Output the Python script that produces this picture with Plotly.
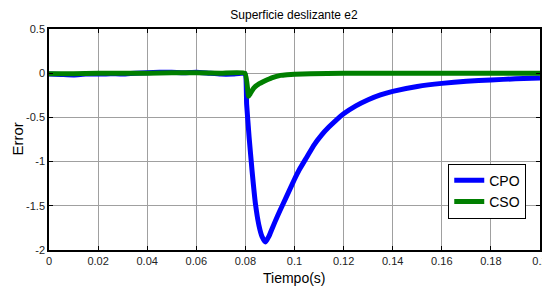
import plotly.graph_objects as go

# Time samples (s)
t_cpo = [0, 0.005, 0.01, 0.015, 0.02, 0.025, 0.03, 0.035, 0.04, 0.045, 0.05, 0.055,
         0.06, 0.065, 0.07, 0.075, 0.0798, 0.0805, 0.0815, 0.0827, 0.0841, 0.0855,
         0.0868, 0.0882, 0.0895, 0.091, 0.093, 0.095, 0.098, 0.1, 0.102, 0.105,
         0.108, 0.111, 0.114, 0.117, 0.12, 0.125, 0.13, 0.135, 0.14,
         0.15, 0.16, 0.17, 0.18, 0.19, 0.2]
cpo = [-0.01, -0.015, -0.02, -0.01, -0.01, -0.005, -0.01, 0.0, 0.005, 0.01, 0.01, 0.005,
       0.01, 0.0, -0.01, -0.01, -0.005, -0.35, -0.72, -1.1, -1.48, -1.72,
       -1.85, -1.91, -1.85, -1.75, -1.62, -1.5, -1.32, -1.2, -1.09, -0.95,
       -0.81, -0.7, -0.61, -0.53, -0.46, -0.37, -0.3, -0.245, -0.205,
       -0.15, -0.115, -0.092, -0.076, -0.064, -0.055]

t_cso = [0, 0.01, 0.02, 0.03, 0.04, 0.05, 0.06, 0.07, 0.0798, 0.0813, 0.082, 0.0834,
         0.085, 0.087, 0.0889, 0.091, 0.0943, 0.097, 0.1, 0.1065, 0.12, 0.14, 0.16,
         0.18, 0.2]
cso = [-0.005, -0.005, 0.0, 0.0, 0.0, 0.005, 0.005, 0.0, 0.0, -0.26, -0.23, -0.17,
       -0.13, -0.1, -0.075, -0.05, -0.025, -0.017, -0.012, -0.005, 0.0, 0.0, 0.0,
       0.0, 0.0]

x_ticks = [0, 0.02, 0.04, 0.06, 0.08, 0.1, 0.12, 0.14, 0.16, 0.18, 0.2]
x_tick_labels = ["0", "0.02", "0.04", "0.06", "0.08", "0.1", "0.12", "0.14", "0.16", "0.18", "0.2"]
y_ticks = [-2, -1.5, -1, -0.5, 0, 0.5]
y_tick_labels = ["-2", "-1.5", "-1", "-0.5", "0", "0.5"]

FONT = "Liberation Sans, Arial"
# page body has an 8px default margin, so the figure is sized to fit inside it
W, H = 542, 279

fig = go.Figure()
fig.add_trace(go.Scatter(x=t_cpo, y=cpo, mode="lines", name="CPO",
                         line=dict(color="#0000ff", width=5, shape="spline", smoothing=0.4)))
fig.add_trace(go.Scatter(x=t_cso, y=cso, mode="lines", name="CSO",
                         line=dict(color="#007f00", width=5, shape="spline", smoothing=0.4)))

axis_common = dict(showline=True, linecolor="black", linewidth=1.5, mirror="ticks",
                   ticks="inside", ticklen=4, tickcolor="black", automargin=False,
                   showgrid=True, gridcolor="#a0a0a0", gridwidth=1, zeroline=False,
                   tickfont=dict(family=FONT, size=11, color="#222"))

fig.update_layout(
    width=W, height=H,
    margin=dict(l=41, r=10, t=21, b=37),
    paper_bgcolor="white", plot_bgcolor="white",
    title=dict(text="Superficie deslizante e2", x=286 / W, xanchor="center",
               xref="container", y=1 - 7 / H, yanchor="middle", yref="container",
               font=dict(family=FONT, size=12, color="black")),
    xaxis=dict(range=[0, 0.2], tickvals=x_ticks, ticktext=x_tick_labels, **axis_common),
    yaxis=dict(range=[-2, 0.5], tickvals=y_ticks, ticktext=y_tick_labels, **axis_common),
    legend=dict(x=0.972, y=0.142, xanchor="right", yanchor="bottom",
                bgcolor="white", bordercolor="black", borderwidth=1,
                font=dict(family=FONT, size=14, color="black"),
                tracegroupgap=0, itemwidth=30),
    showlegend=True,
    annotations=[
        dict(text="Tiempo(s)", xref="paper", yref="paper", x=0.5, y=-0.125,
             xanchor="center", yanchor="middle", showarrow=False,
             font=dict(family=FONT, size=14, color="black")),
        dict(text="Error", xref="paper", yref="paper", x=-0.065, y=0.5,
             xanchor="center", yanchor="middle", textangle=-90, showarrow=False,
             font=dict(family=FONT, size=15, color="black")),
    ],
)

fig.write_html("out.html")
